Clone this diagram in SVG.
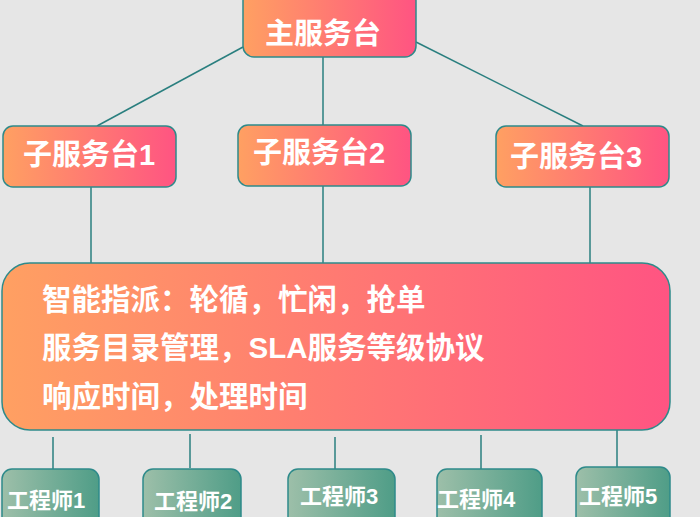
<svg xmlns="http://www.w3.org/2000/svg" width="700" height="517" viewBox="0 0 700 517">
<defs>
<linearGradient id="g1" x1="0" y1="0" x2="1" y2="0">
<stop offset="0" stop-color="#FFA062"/>
<stop offset="1" stop-color="#FF5482"/>
</linearGradient>
<linearGradient id="g2" x1="0" y1="0" x2="1" y2="0">
<stop offset="0" stop-color="#9DBFA9"/>
<stop offset="1" stop-color="#4F9D87"/>
</linearGradient>
<style>
.o{fill:url(#g1);stroke:#2E8A8A;stroke-width:1.5}
.e{fill:url(#g2);stroke:#2E8A8A;stroke-width:1.5}
.t{font-family:"Liberation Sans","Noto Sans CJK SC",sans-serif;font-weight:bold;fill:#fff}
.c{stroke:#2A7F7F;stroke-width:1.5;fill:none}
</style>
</defs>
<rect width="700" height="517" fill="#E6E6E6"/>
<g id="connectors">
<line class="c" x1="243" y1="47" x2="97" y2="126"/>
<line class="c" x1="323" y1="57" x2="323" y2="125"/>
<line class="c" x1="416" y1="42" x2="583" y2="126"/>
<line class="c" x1="91" y1="187" x2="91" y2="264"/>
<line class="c" x1="323" y1="186" x2="323" y2="264"/>
<line class="c" x1="590" y1="187" x2="590" y2="264"/>
<line class="c" x1="53" y1="437" x2="53" y2="469"/>
<line class="c" x1="190" y1="434" x2="190" y2="468"/>
<line class="c" x1="335" y1="437" x2="335" y2="469"/>
<line class="c" x1="481" y1="435" x2="481" y2="469"/>
<line class="c" x1="617" y1="430" x2="617" y2="467"/>
</g>
<g id="main">
<rect class="o" x="243" y="-10" width="173" height="67" rx="11"/>
<text class="t" x="265" y="44" font-size="29">主服务台</text>
</g>
<g id="sub1">
<rect class="o" x="3" y="126" width="173" height="61" rx="10"/>
<text class="t" x="23" y="165" font-size="29">子服务台1</text>
</g>
<g id="sub2">
<rect class="o" x="238" y="125" width="173" height="61" rx="10"/>
<text class="t" x="253" y="163" font-size="29">子服务台2</text>
</g>
<g id="sub3">
<rect class="o" x="496" y="126" width="173" height="61" rx="10"/>
<text class="t" x="510" y="167" font-size="29">子服务台3</text>
</g>
<g id="center">
<rect class="o" x="2" y="263" width="668" height="167" rx="28"/>
<text class="t" x="42" y="310" font-size="29.5">智能指派：轮循，忙闲，抢单</text>
<text class="t" x="42" y="358" font-size="29.5">服务目录管理，SLA服务等级协议</text>
<text class="t" x="42" y="407" font-size="29.5">响应时间，处理时间</text>
</g>
<g id="eng1">
<rect class="e" x="2" y="469" width="97" height="70" rx="10"/>
<text class="t" x="7" y="508" font-size="22">工程师1</text>
</g>
<g id="eng2">
<rect class="e" x="143" y="469" width="98" height="70" rx="10"/>
<text class="t" x="154" y="509" font-size="22">工程师2</text>
</g>
<g id="eng3">
<rect class="e" x="288" y="469" width="107" height="70" rx="10"/>
<text class="t" x="300" y="504" font-size="22">工程师3</text>
</g>
<g id="eng4">
<rect class="e" x="437" y="469" width="105" height="70" rx="10"/>
<text class="t" x="437" y="507" font-size="22">工程师4</text>
</g>
<g id="eng5">
<rect class="e" x="576" y="467" width="94" height="70" rx="10"/>
<text class="t" x="579" y="504" font-size="22">工程师5</text>
</g>
</svg>
